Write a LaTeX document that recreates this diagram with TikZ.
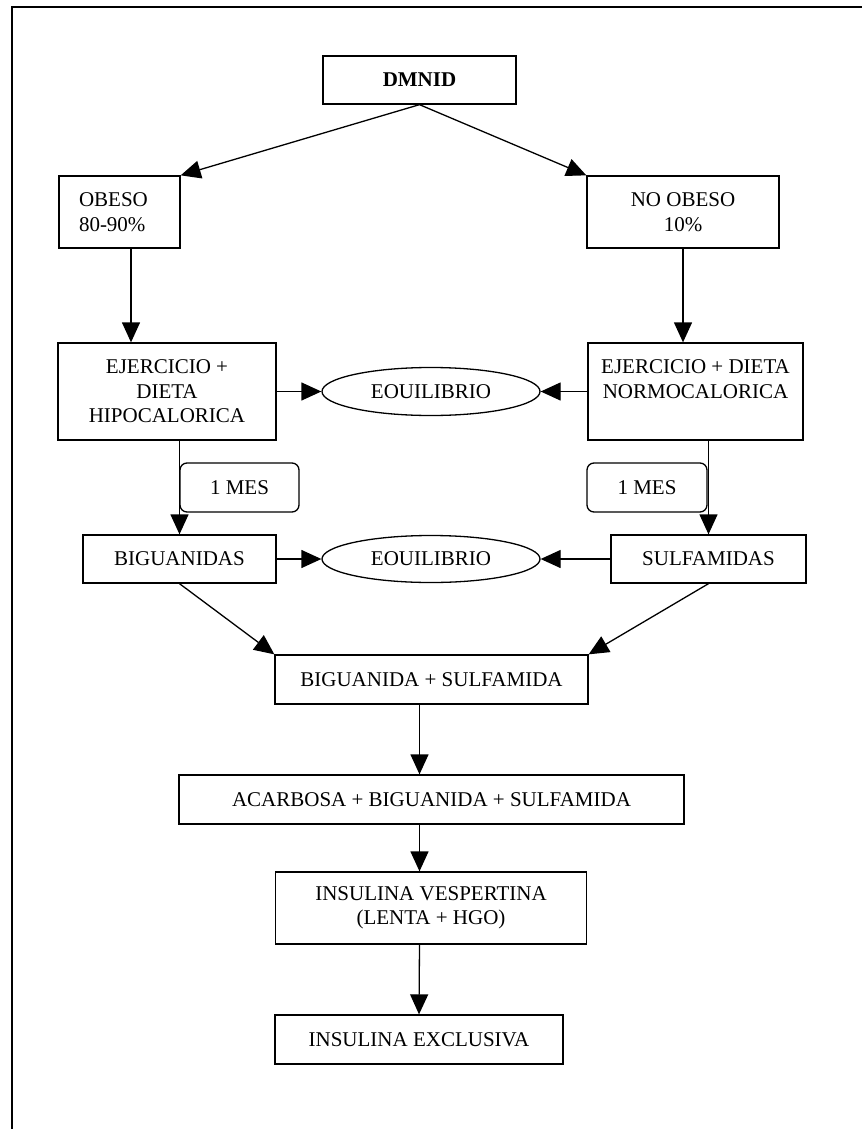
\documentclass[tikz,border=0pt]{standalone}
\usepackage{fontspec}
\setmainfont{Liberation Serif}
\usetikzlibrary{arrows.meta,shapes.geometric,calc}
\tikzset{
  box/.style={draw, line width=1.3pt, inner sep=0pt, align=center,
    font=\fontsize{21}{24.5}\selectfont},
  ovalbox/.style={draw, ellipse, line width=1.3pt, inner sep=0pt,
    minimum width=218pt, minimum height=48pt, font=\fontsize{21}{24.5}\selectfont},
  mesbox/.style={box, rounded corners=7pt, minimum width=119pt, minimum height=49pt},
  arr/.style={line width=1.3pt, -{Triangle[length=20pt,width=18pt]}},
  frameline/.style={line width=2pt}
}
\begin{document}
\begin{tikzpicture}[x=1pt,y=-1pt]
\useasboundingbox (0,0) rectangle (862,1129);
\draw[frameline] (11.5,1129) -- (11.5,7.5) -- (862,7.5);

\node[box, minimum width=193pt, minimum height=48pt] (dmnid) at (419.5,80) {\textbf{DMNID}};
\node[box, align=left, text width=81pt, inner xsep=20pt, inner ysep=0pt,
      minimum width=121pt, minimum height=72pt] (obeso) at (119.5,212) {OBESO\\80-90\%};
\node[box, minimum width=192pt, minimum height=72pt] (noobeso) at (683,212) {NO OBESO\\10\%};

\node[box, minimum width=218pt, minimum height=97pt] (ejl) at (167,391.5) {EJERCICIO +\\DIETA\\HIPOCALORICA};
\node[box, minimum width=215pt, minimum height=97pt] (ejr) at (695.5,391.5) {EJERCICIO + DIETA\\NORMOCALORICA\\\phantom{H}};
\node[ovalbox] (eq1) at (431,391.5) {EOUILIBRIO};

\node[mesbox] (mesl) at (239.5,487.5) {1 MES};
\node[mesbox, minimum width=120pt] (mesr) at (647,487.5) {1 MES};

\node[box, minimum width=193pt, minimum height=48pt] (bigs) at (179.5,559) {BIGUANIDAS};
\node[ovalbox, minimum height=47pt] (eq2) at (431,559) {EOUILIBRIO};
\node[box, minimum width=195pt, minimum height=48pt] (sulf) at (708.5,559) {SULFAMIDAS};

\node[box, minimum width=313pt, minimum height=49pt] (bs) at (431.5,679.5) {BIGUANIDA + SULFAMIDA};
\node[box, minimum width=505pt, minimum height=49pt] (acar) at (431.5,799.5) {ACARBOSA + BIGUANIDA + SULFAMIDA};
\node[box, minimum width=311.5pt, minimum height=72pt] (insv) at (431,908) {INSULINA VESPERTINA\\(LENTA + HGO)};
\node[box, minimum width=288pt, minimum height=49pt] (inse) at (419,1039.5) {INSULINA EXCLUSIVA};

\coordinate (o1) at ([xshift=11.5pt]obeso.south);

\draw[arr] (dmnid.south) -- (obeso.north east);
\draw[arr] (dmnid.south) -- (noobeso.north west);
\draw[arr] (o1) -- (o1 |- ejl.north);
\draw[arr] (noobeso.south) -- (noobeso.south |- ejr.north);
\draw[arr] (ejl.east) -- (ejl.east -| eq1.west);
\draw[arr] (ejr.west) -- (ejr.west -| eq1.east);
\draw[arr] (bigs.north |- ejl.south) -- (bigs.north);
\draw[arr] (sulf.north |- ejr.south) -- (sulf.north);
\draw[arr] (bigs.east) -- (eq2.west);
\draw[arr] (sulf.west) -- (eq2.east);
\draw[arr] (bigs.south) -- (bs.north west);
\draw[arr] (sulf.south) -- (bs.north east);
\draw[arr] (dmnid.south |- bs.south) -- (dmnid.south |- acar.north);
\draw[arr] (dmnid.south |- acar.south) -- (dmnid.south |- insv.north);
\draw[arr] (dmnid.south |- insv.south) -- (inse.north);
\end{tikzpicture}
\end{document}
